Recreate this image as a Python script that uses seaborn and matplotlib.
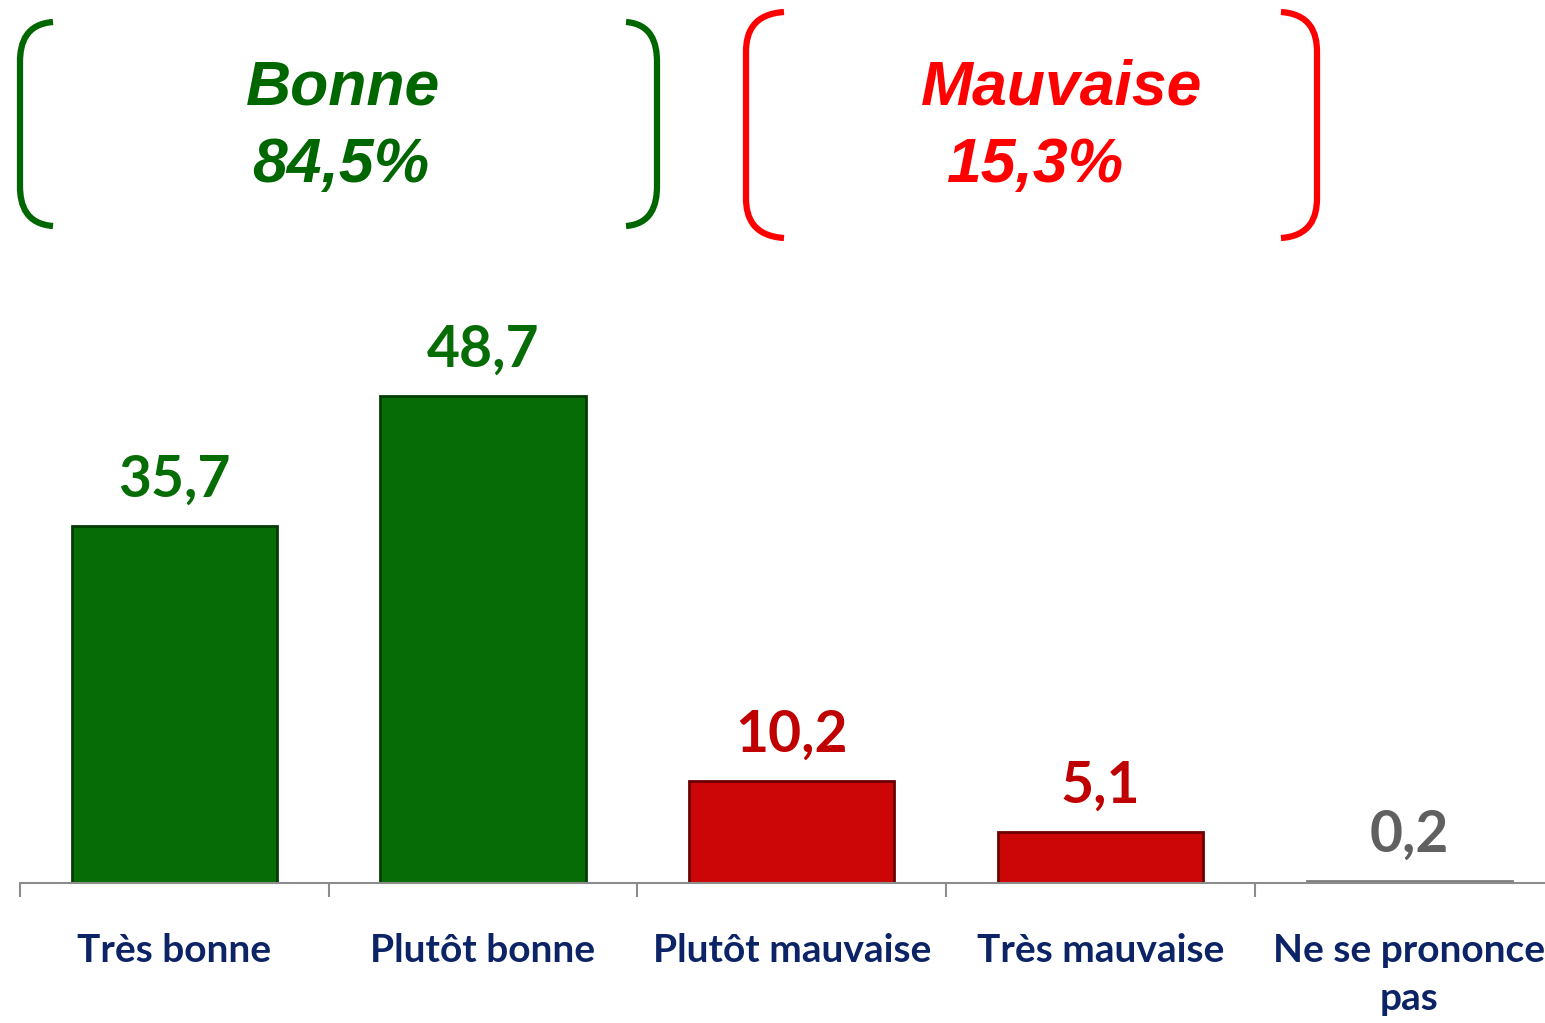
import matplotlib
matplotlib.use("Agg")
import matplotlib.pyplot as plt
import seaborn as sns
import pandas as pd
from matplotlib.path import Path
from matplotlib.patches import PathPatch

# data
categories = ["Très bonne", "Plutôt bonne", "Plutôt mauvaise", "Très mauvaise", "Ne se prononce\npas"]
values = [35.7, 48.7, 10.2, 5.1, 0.2]
value_labels = ["35,7", "48,7", "10,2", "5,1", "0,2"]
bar_colors = ["#066d06", "#066d06", "#cc0606", "#cc0606", "#7f7f7f"]
label_colors = ["#066d06", "#066d06", "#c00000", "#c00000", "#606060"]
edge_colors = ["#033d03", "#033d03", "#6a0000", "#6a0000", "#7f7f7f"]
group_names = ["Bonne", "Mauvaise"]
group_totals = ["84,5%", "15,3%"]

df = pd.DataFrame({"categorie": categories, "valeur": values})

sns.set_style("white")
plt.rcParams["font.family"] = ["Lato", "DejaVu Sans"]

W, H = 1545, 1023
fig = plt.figure(figsize=(W / 100, H / 100), dpi=100)
ax = fig.add_axes([20 / W, 140 / H, 1525 / W, 600 / H])

sns.barplot(data=df, x="categorie", y="valeur", hue="categorie",
            palette=bar_colors, saturation=1, width=0.665, legend=False, ax=ax)

for patch, ec in zip(ax.patches, edge_colors):
    patch.set_edgecolor(ec)
    patch.set_linewidth(2)

for patch, lab, col in zip(ax.patches, value_labels, label_colors):
    ax.annotate(lab, (patch.get_x() + patch.get_width() / 2, patch.get_height()),
                xytext=(0, 21), textcoords="offset points", ha="center", va="baseline",
                fontsize=41, fontweight="bold", color=col)

ax.set_xlim(-0.5, 4.44)
ax.set_ylim(0, 60)
ax.set_xlabel("")
ax.set_ylabel("")
ax.set_yticks([])
for s in ["top", "right", "left"]:
    ax.spines[s].set_visible(False)
ax.spines["bottom"].set_color("#8c8c8c")
ax.spines["bottom"].set_linewidth(1.5)

ax.set_xticks(range(len(categories)))
ax.set_xticklabels(categories, fontsize=28, fontweight="bold", color="#0c2466",
                   linespacing=1.45)
ax.tick_params(axis="x", which="major", bottom=False, length=0, pad=36)
ax.set_xticks([i - 0.5 for i in range(len(categories))], minor=True)
ax.tick_params(axis="x", which="minor", bottom=True, length=10, width=1.5,
               color="#8c8c8c", direction="out")

# overlay in pixel coordinates for the group brackets
ov = fig.add_axes([0, 0, 1, 1])
ov.set_xlim(0, W)
ov.set_ylim(H, 0)
ov.axis("off")
ov.patch.set_alpha(0)


def bracket(x_edge, x_end, y0, y1, color):
    r = 40
    verts = [(x_end, y0), (x_edge + (x_end - x_edge) * 0.2, y0 + 2), (x_edge, y0 + r * 0.5), (x_edge, y0 + r),
             (x_edge, y1 - r),
             (x_edge, y1 - r * 0.5), (x_edge + (x_end - x_edge) * 0.2, y1 - 2), (x_end, y1)]
    codes = [Path.MOVETO, Path.CURVE4, Path.CURVE4, Path.CURVE4, Path.LINETO,
             Path.CURVE4, Path.CURVE4, Path.CURVE4]
    ov.add_patch(PathPatch(Path(verts, codes), fill=False, edgecolor=color, lw=4.5,
                           capstyle="butt"))


bracket(20, 53, 22, 226, "#006600")
bracket(657, 626, 22, 226, "#006600")
bracket(746, 784, 12, 238, "#ff0000")
bracket(1317, 1281, 12, 238, "#ff0000")

head_font = ["Liberation Sans", "DejaVu Sans"]
ov.text(343, 88, group_names[0], ha="center", va="center", fontsize=45, fontweight="bold",
        style="italic", color="#006600", family=head_font)
ov.text(341, 165, group_totals[0], ha="center", va="center", fontsize=45, fontweight="bold",
        style="italic", color="#006600", family=head_font)
ov.text(1062, 88, group_names[1], ha="center", va="center", fontsize=45, fontweight="bold",
        style="italic", color="#ff0000", family=head_font)
ov.text(1036, 165, group_totals[1], ha="center", va="center", fontsize=45, fontweight="bold",
        style="italic", color="#ff0000", family=head_font)

fig.savefig("out.png", dpi=100, facecolor="white")
